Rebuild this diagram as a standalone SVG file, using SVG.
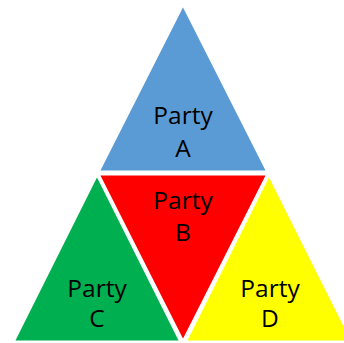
<svg xmlns="http://www.w3.org/2000/svg" width="344" height="343" viewBox="0 0 344 343">
<style>
.tri{stroke:#FFFFFF;stroke-width:3;stroke-linejoin:miter}
.lbl{font-family:"Open Sans","Liberation Sans",sans-serif;font-size:24.5px;fill:#000000;text-anchor:middle}
</style>
<rect width="344" height="343" fill="#FFFFFF"/>
<g id="party-a">
<polygon class="tri" points="183,4 268,172 98,172" fill="#5B9BD5"/>
<text class="lbl" x="183" y="124">Party</text>
<text class="lbl" x="183" y="157">A</text>
</g>
<g id="party-b">
<polygon class="tri" points="98,174 268,174 183,342" fill="#FF0000"/>
<text class="lbl" x="183" y="209">Party</text>
<text class="lbl" x="183" y="241">B</text>
</g>
<g id="party-c">
<polygon class="tri" points="97,174 181,342 13,342" fill="#00B050"/>
<text class="lbl" x="97" y="297">Party</text>
<text class="lbl" x="97" y="327">C</text>
</g>
<g id="party-d">
<polygon class="tri" points="269,174 353,342 185,342" fill="#FFFF00"/>
<text class="lbl" x="270" y="297">Party</text>
<text class="lbl" x="270" y="327">D</text>
</g>
<g id="connectors"></g>
</svg>
